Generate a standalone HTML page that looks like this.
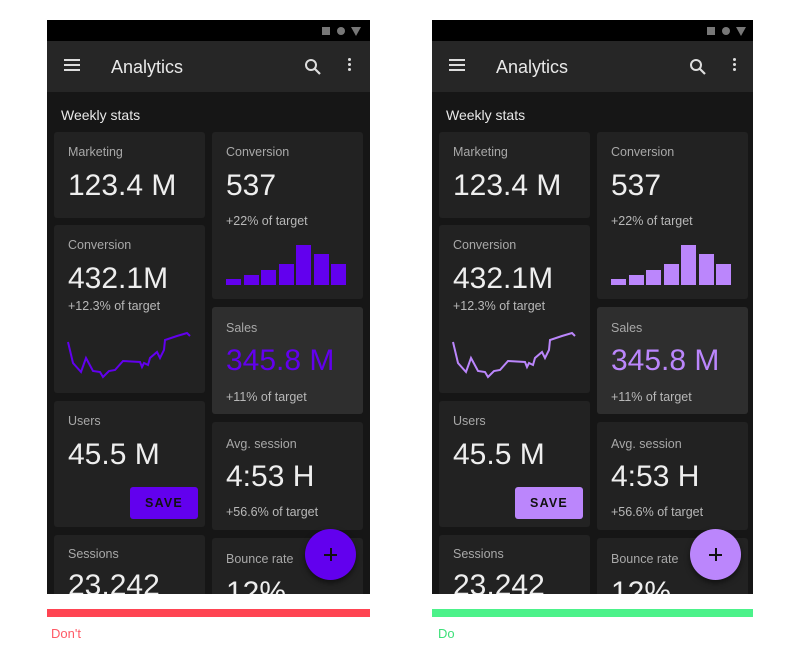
<!DOCTYPE html>
<html><head><meta charset="utf-8"><style>
*{margin:0;padding:0;box-sizing:border-box}
body{width:800px;height:652px;background:#fff;position:relative;overflow:hidden;font-family:"Liberation Sans",sans-serif}
.ph{position:absolute;top:20px;width:323px;height:574px;background:#161616;overflow:hidden}
.sb{position:absolute;left:0;top:0;width:323px;height:21px;background:#000}
.ab{position:absolute;left:0;top:21px;width:323px;height:51px;background:#262626}
.a{position:absolute;color:#e8e8e8;white-space:nowrap}
.c{position:absolute;background:#222;border-radius:3px}
.l{font-size:12.5px;color:#a8a8a8}
.n{font-size:30px;color:#eee}
.s{font-size:12.5px;color:#b8b8b8}
.fab{position:absolute;left:258px;top:509px;width:51px;height:51px;border-radius:50%;box-shadow:0 3px 6px rgba(0,0,0,.5)}
.fab:before{content:"";position:absolute;left:19px;top:25px;width:13px;height:2px;background:#111}
.fab:after{content:"";position:absolute;left:25px;top:19px;width:2px;height:13px;background:#111}
</style></head><body>
<!-- LEFT -->
<div class="ph" style="left:47px">
<div class="sb"><div style="position:absolute;left:275px;top:7px;width:8px;height:8px;background:#777"></div><div style="position:absolute;left:290px;top:7px;width:8px;height:8px;border-radius:50%;background:#777"></div><div style="position:absolute;left:304px;top:7px;width:0;height:0;border-left:5px solid transparent;border-right:5px solid transparent;border-top:9px solid #777"></div></div>
<div class="ab"><div style="position:absolute;left:17px;top:18px;width:16px;height:2px;background:#ddd;box-shadow:0 5px 0 #ddd,0 10px 0 #ddd"></div>
<div class="a" style="left:64px;top:16px;font-size:18px">Analytics</div>
<svg style="position:absolute;left:257px;top:17px" width="18" height="18"><circle cx="7" cy="7" r="5" fill="none" stroke="#ddd" stroke-width="2"/><line x1="10.5" y1="10.5" x2="16" y2="16" stroke="#ddd" stroke-width="2.2"/></svg>
<div style="position:absolute;left:301px;top:17px;width:3px;height:3px;background:#ddd;border-radius:50%;box-shadow:0 5px 0 #ddd,0 10px 0 #ddd"></div></div>
<div class="a" style="left:14px;top:87px;font-size:14px">Weekly stats</div>
<div class="c" style="left:7px;top:112px;width:151px;height:86px"><div class="a l" style="left:14px;top:13px">Marketing</div><div class="a n" style="left:14px;top:37px">123.4 M</div></div>
<div class="c" style="left:7px;top:205px;width:151px;height:168px"><div class="a l" style="left:14px;top:13px">Conversion</div><div class="a n" style="left:14px;top:37px">432.1M</div><div class="a s" style="left:14px;top:74px">+12.3% of target</div></div>
<div class="c" style="left:7px;top:381px;width:151px;height:126px"><div class="a l" style="left:14px;top:13px">Users</div><div class="a n" style="left:14px;top:37px">45.5 M</div>
<div style="position:absolute;left:76px;top:86px;width:68px;height:32px;background:#6200ee;border-radius:3px;color:#111;font-weight:bold;font-size:12.5px;letter-spacing:1.2px;text-align:center;line-height:32px">SAVE</div></div>
<div class="c" style="left:7px;top:515px;width:151px;height:80px"><div class="a l" style="left:14px;top:12px">Sessions</div><div class="a n" style="left:14px;top:34px">23,242</div></div>
<div class="c" style="left:165px;top:112px;width:151px;height:167px"><div class="a l" style="left:14px;top:13px">Conversion</div><div class="a n" style="left:14px;top:37px">537</div><div class="a s" style="left:14px;top:82px">+22% of target</div></div>
<div class="c" style="left:165px;top:287px;width:151px;height:107px;background:#2e2e2e"><div class="a l" style="left:14px;top:14px">Sales</div><div class="a n" style="left:14px;top:37px;color:#6200ee">345.8 M</div><div class="a s" style="left:14px;top:83px">+11% of target</div></div>
<div class="c" style="left:165px;top:402px;width:151px;height:108px"><div class="a l" style="left:14px;top:15px">Avg. session</div><div class="a n" style="left:14px;top:38px">4:53 H</div><div class="a s" style="left:14px;top:83px">+56.6% of target</div></div>
<div class="c" style="left:165px;top:518px;width:151px;height:80px"><div class="a l" style="left:14px;top:14px">Bounce rate</div><div class="a n" style="left:14px;top:38px">12%</div></div>
<div class="fab" style="background:#6200ee"></div>
</div>
<!-- RIGHT -->
<div class="ph" style="left:432px;width:321px">
<div class="sb"><div style="position:absolute;left:275px;top:7px;width:8px;height:8px;background:#777"></div><div style="position:absolute;left:290px;top:7px;width:8px;height:8px;border-radius:50%;background:#777"></div><div style="position:absolute;left:304px;top:7px;width:0;height:0;border-left:5px solid transparent;border-right:5px solid transparent;border-top:9px solid #777"></div></div>
<div class="ab"><div style="position:absolute;left:17px;top:18px;width:16px;height:2px;background:#ddd;box-shadow:0 5px 0 #ddd,0 10px 0 #ddd"></div>
<div class="a" style="left:64px;top:16px;font-size:18px">Analytics</div>
<svg style="position:absolute;left:257px;top:17px" width="18" height="18"><circle cx="7" cy="7" r="5" fill="none" stroke="#ddd" stroke-width="2"/><line x1="10.5" y1="10.5" x2="16" y2="16" stroke="#ddd" stroke-width="2.2"/></svg>
<div style="position:absolute;left:301px;top:17px;width:3px;height:3px;background:#ddd;border-radius:50%;box-shadow:0 5px 0 #ddd,0 10px 0 #ddd"></div></div>
<div class="a" style="left:14px;top:87px;font-size:14px">Weekly stats</div>
<div class="c" style="left:7px;top:112px;width:151px;height:86px"><div class="a l" style="left:14px;top:13px">Marketing</div><div class="a n" style="left:14px;top:37px">123.4 M</div></div>
<div class="c" style="left:7px;top:205px;width:151px;height:168px"><div class="a l" style="left:14px;top:13px">Conversion</div><div class="a n" style="left:14px;top:37px">432.1M</div><div class="a s" style="left:14px;top:74px">+12.3% of target</div></div>
<div class="c" style="left:7px;top:381px;width:151px;height:126px"><div class="a l" style="left:14px;top:13px">Users</div><div class="a n" style="left:14px;top:37px">45.5 M</div>
<div style="position:absolute;left:76px;top:86px;width:68px;height:32px;background:#bb86fc;border-radius:3px;color:#111;font-weight:bold;font-size:12.5px;letter-spacing:1.2px;text-align:center;line-height:32px">SAVE</div></div>
<div class="c" style="left:7px;top:515px;width:151px;height:80px"><div class="a l" style="left:14px;top:12px">Sessions</div><div class="a n" style="left:14px;top:34px">23,242</div></div>
<div class="c" style="left:165px;top:112px;width:151px;height:167px"><div class="a l" style="left:14px;top:13px">Conversion</div><div class="a n" style="left:14px;top:37px">537</div><div class="a s" style="left:14px;top:82px">+22% of target</div></div>
<div class="c" style="left:165px;top:287px;width:151px;height:107px;background:#2e2e2e"><div class="a l" style="left:14px;top:14px">Sales</div><div class="a n" style="left:14px;top:37px;color:#bb86fc">345.8 M</div><div class="a s" style="left:14px;top:83px">+11% of target</div></div>
<div class="c" style="left:165px;top:402px;width:151px;height:108px"><div class="a l" style="left:14px;top:15px">Avg. session</div><div class="a n" style="left:14px;top:38px">4:53 H</div><div class="a s" style="left:14px;top:83px">+56.6% of target</div></div>
<div class="c" style="left:165px;top:518px;width:151px;height:80px"><div class="a l" style="left:14px;top:14px">Bounce rate</div><div class="a n" style="left:14px;top:38px">12%</div></div>
<div class="fab" style="background:#bb86fc"></div>
</div>
<svg width="800" height="652" style="position:absolute;left:0;top:0">
<g fill="#6200ee">
<rect x="226" y="279" width="15" height="6"/><rect x="244" y="275" width="15" height="10"/><rect x="261" y="270" width="15" height="15"/><rect x="279" y="264" width="15" height="21"/><rect x="296" y="245" width="15" height="40"/><rect x="314" y="254" width="15" height="31"/><rect x="331" y="264" width="15" height="21"/>
</g>
<polyline fill="none" stroke="#6200ee" stroke-width="2" points="68,342 73,363 81,372 86,358 93,371 100,372 103,377 109,371 115,370 123,361 140,362 142,367 144,363 148,365 150,358 157,352 160,358 164,350 165,340 177,336 187,333 190,336"/>
<g fill="#bb86fc" transform="translate(385,0)">
<rect x="226" y="279" width="15" height="6"/><rect x="244" y="275" width="15" height="10"/><rect x="261" y="270" width="15" height="15"/><rect x="279" y="264" width="15" height="21"/><rect x="296" y="245" width="15" height="40"/><rect x="314" y="254" width="15" height="31"/><rect x="331" y="264" width="15" height="21"/>
</g>
<polyline transform="translate(385,0)" fill="none" stroke="#bb86fc" stroke-width="2" points="68,342 73,363 81,372 86,358 93,371 100,372 103,377 109,371 115,370 123,361 140,362 142,367 144,363 148,365 150,358 157,352 160,358 164,350 165,340 177,336 187,333 190,336"/>
<rect x="47" y="609" width="323" height="8" fill="#ff4452"/>
<rect x="432" y="609" width="321" height="8" fill="#4cf28a"/>
<text x="51" y="638" font-family="Liberation Sans" font-size="13" fill="#ff5a66">Don't</text>
<text x="438" y="638" font-family="Liberation Sans" font-size="13" fill="#3ee07a">Do</text>
</svg>
</body></html>
